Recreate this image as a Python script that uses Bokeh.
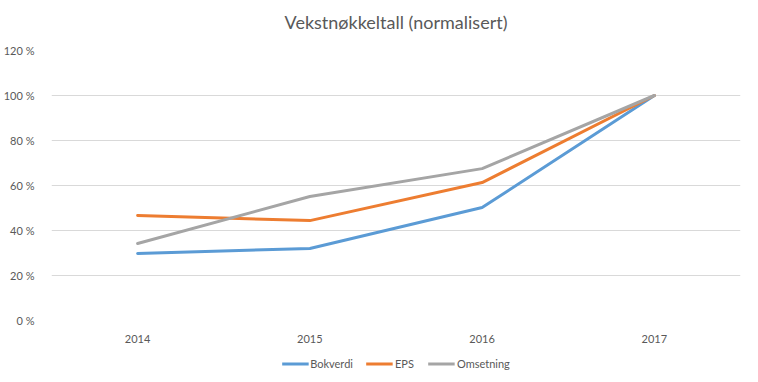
from bokeh.plotting import figure
from bokeh.models import FactorRange, Range1d, Legend, LegendItem, FixedTicker, Label
from bokeh.layouts import column
from bokeh.embed import file_html
from bokeh.resources import INLINE

title_text = "Vekstnøkkeltall (normalisert)"
categories = ["2014", "2015", "2016", "2017"]
bokverdi = [29.8, 32.0, 50.2, 100.0]
eps = [46.7, 44.4, 61.3, 100.0]
omsetning = [34.2, 55.1, 67.5, 100.0]
y_ticks = [0, 20, 40, 60, 80, 100, 120]
y_tick_labels = ["0 %", "20 %", "40 %", "60 %", "80 %", "100 %", "120 %"]
series_names = ["Bokverdi", "EPS", "Omsetning"]
colors = ["#5B9BD5", "#ED7D31", "#A5A5A5"]

FONT = "Lato"
TXT = "#595959"
W = 742


def strip(height):
    f = figure(width=W, height=height, x_range=Range1d(0, 1), y_range=Range1d(0, 1),
               output_backend="svg", toolbar_location=None, x_axis_type=None, y_axis_type=None,
               min_border=0)
    f.outline_line_color = None
    f.grid.visible = False
    return f


# title strip
top = strip(42)
top.add_layout(Label(x=0.5, y=0.5, text=title_text, text_align="center", text_baseline="middle",
                     text_font=FONT, text_font_size="18px", text_color=TXT))

# main chart
p = figure(width=W, height=304, x_range=FactorRange(*categories, range_padding=0),
           y_range=Range1d(0, 120), output_backend="svg", toolbar_location=None,
           min_border_left=41, min_border_right=2, min_border_top=8, min_border_bottom=26)
p.outline_line_color = None

for name, vals, c in zip(series_names, [bokverdi, eps, omsetning], colors):
    p.line(categories, vals, line_color=c, line_width=3, line_join="round", line_cap="round")

p.yaxis.ticker = FixedTicker(ticks=y_ticks)
p.yaxis.major_label_overrides = {t: l for t, l in zip(y_ticks, y_tick_labels)}
for ax in (p.xaxis[0], p.yaxis[0]):
    ax.axis_line_color = None
    ax.major_tick_line_color = None
    ax.minor_tick_line_color = None
    ax.major_label_text_font = FONT
    ax.major_label_text_font_size = "11px"
    ax.major_label_text_color = TXT
p.yaxis.major_label_standoff = 11
p.xaxis.major_label_standoff = 8

p.xgrid.grid_line_color = None
p.ygrid.grid_line_color = "#D9D9D9"
p.ygrid.grid_line_width = 1

# legend strip (keyed with the same colours; its key lines lie outside
# its visible range so only the legend shows)
lg = strip(34)
items = []
for name, c in zip(series_names, colors):
    r = lg.line(x=[5, 6], y=[5, 6], line_color=c, line_width=3)
    items.append(LegendItem(label=name, renderers=[r]))
legend = Legend(items=items, orientation="horizontal", location="center")
legend.border_line_color = None
legend.background_fill_alpha = 0
legend.label_text_font = FONT
legend.label_text_font_size = "11px"
legend.label_text_color = TXT
legend.glyph_width = 27
legend.glyph_height = 12
legend.label_standoff = 2
legend.spacing = 13
legend.padding = 0
legend.margin = 0
lg.add_layout(legend)

layout = column(top, p, lg, spacing=0)

open("out.html", "w").write(file_html(layout, INLINE))
